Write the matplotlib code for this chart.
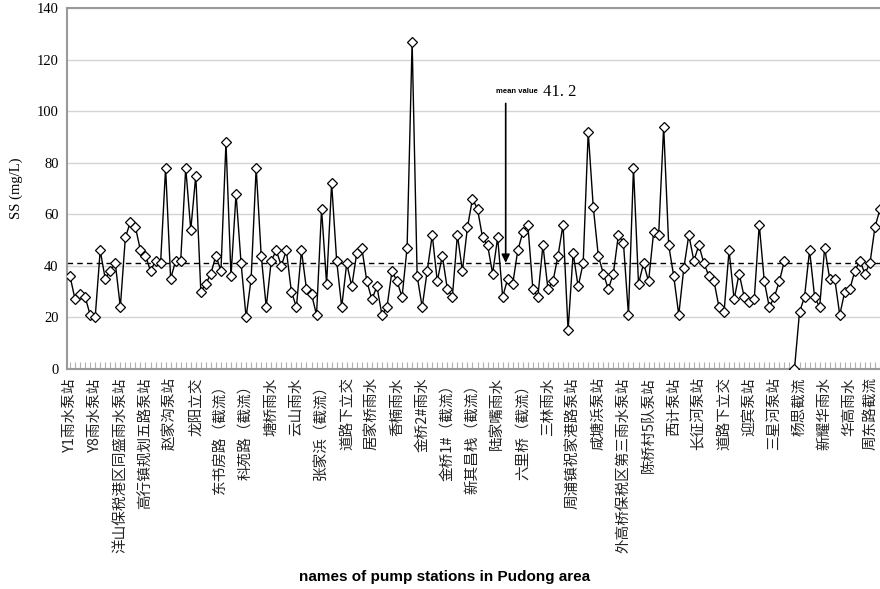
import numpy as np
import matplotlib.pyplot as plt
from matplotlib.transforms import ScaledTranslation

# SS concentration at each pump station (mg/L); nan = no sample
ss_values = [
    36, 27, 29, 28, 21, 20, 46, 35, 38, 41,
    24, 51, 57, 55, 46, 44, 38, 42, 41, 78,
    35, 42, 42, 78, 54, 75, 30, 33, 37, 44,
    38, 88, 36, 68, 41, 20, 35, 78, 44, 24,
    42, 46, 40, 46, 30, 24, 46, 31, 29, 21,
    62, 33, 72, 42, 24, 41, 32, 45, 47, 34,
    27, 32, 21, 24, 38, 34, 28, 47, 127, 36,
    24, 38, 52, 34, 44, 31, 28, 52, 38, 55,
    66, 62, 51, 48, 37, 51, 28, 35, 33, 46,
    53, 56, 31, 28, 48, 31, 34, 44, 56, 15,
    45, 32, 41, 92, 63, 44, 37, 31, 37, 52,
    49, 21, 78, 33, 41, 34, 53, 52, 94, 48,
    36, 21, 39, 52, 42, 48, 41, 36, 34, 24,
    22, 46, 27, 37, 28, 26, 27, 56, 34, 24,
    28, 34, 42, np.nan, 0, 22, 28, 46, 28, 24,
    47, 35, 35, 21, 30, 31, 38, 42, 37, 41,
    55, 62,
]

# every fifth station is named on the axis
station_names = [
    "Y1雨水泵站", "Y8雨水泵站", "洋山保税港区同盛雨水泵站", "高行镇规划五路泵站",
    "赵家沟泵站", "龙阳立交", "东书房路（截流）", "科苑路（截流）", "塘桥雨水",
    "云山雨水", "张家浜（截流）", "道路下立交", "居家桥雨水", "香楠雨水",
    "金桥2#雨水", "金桥1#（截流）", "新其昌栈（截流）", "陆家嘴雨水",
    "六里桥（截流）", "三林雨水", "周浦镇祝家港路泵站", "咸塘浜泵站",
    "外高桥保税区第三雨水泵站", "陈桥村5队泵站", "西计泵站", "长征河泵站",
    "道路下立交", "迎宾泵站", "三星河泵站", "杨思截流", "新耀华雨水",
    "华高雨水", "周东路截流",
]
label_step = 5
mean_value = 41.2
y_ticks = [0, 20, 40, 60, 80, 100, 120, 140]

x = np.arange(len(ss_values))

fig = plt.figure(figsize=(8.8, 5.89), dpi=100)
ax = fig.add_axes([67 / 880, 1 - 369 / 589, 1 - 67 / 880, 361 / 589])

ax.plot(x, ss_values, color="black", lw=1.0, marker="D", markersize=4.8,
        markerfacecolor="white", markeredgecolor="black", markeredgewidth=0.9,
        zorder=3)
ax.axhline(mean_value, color="black", lw=1.0, ls=(0, (4, 3)), zorder=2)

ax.set_xlim(-0.6, 160.8)
ax.set_ylim(0, 140)
ax.set_yticks(y_ticks)
ax.grid(axis="y", color="#d4d4d4", lw=1.0)
ax.set_axisbelow(True)

for side in ["left", "top", "bottom"]:
    ax.spines[side].set_color("#9a9a9a")
    ax.spines[side].set_linewidth(1.5)
ax.spines["right"].set_visible(False)

ax.set_xticks(x[::label_step][:len(station_names)])
ax.set_xticklabels(station_names, rotation=90, va="top", ha="center",
                   family=["Noto Sans CJK SC", "DejaVu Sans"], fontsize=10.5,
                   color="#222222")
ax.set_xticks(x, minor=True)
ax.tick_params(axis="x", which="both", direction="in", length=5,
               color="#b0b0b0", width=0.8, pad=6)
ax.tick_params(axis="y", length=0, pad=6)
for t in ax.get_yticklabels():
    t.set_family("Liberation Serif")
    t.set_fontsize(10.5)

# pull the last station name in from the figure edge
last = ax.get_xticklabels()[-1]
last.set_transform(last.get_transform()
                   + ScaledTranslation(-5 / 100, 0, fig.dpi_scale_trans))

ax.set_ylabel("SS (mg/L)", family="Liberation Serif", fontsize=10.5, labelpad=10)
fig.text(445 / 880, 1 - 577 / 589, "names of pump stations in Pudong area",
         ha="center", va="center", family="Liberation Sans", weight="bold",
         fontsize=11)

# mean value callout with a downward arrow onto the dashed line
ax.annotate("", xy=(86.6, mean_value), xytext=(86.6, 103),
            arrowprops=dict(arrowstyle="-|>", color="black", lw=1.2,
                            mutation_scale=12, shrinkA=0, shrinkB=0))
ax.text(93, 107.5, "mean value", ha="right", va="center",
        family="Liberation Sans", weight="bold", fontsize=5.5)
ax.text(94, 107.5, "41. 2", ha="left", va="center",
        family="Liberation Serif", fontsize=12)

fig.savefig("out.png", dpi=100)
